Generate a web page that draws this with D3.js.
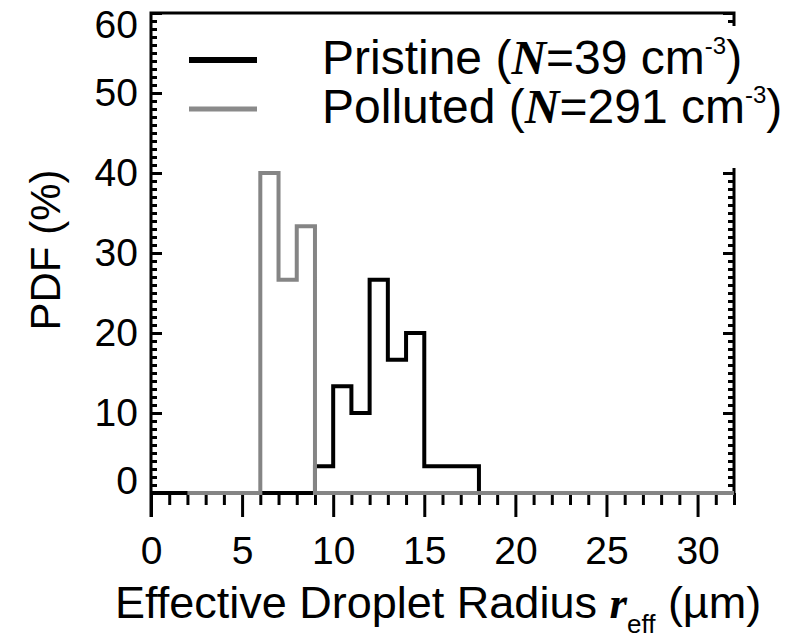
<!DOCTYPE html>
<html>
<head>
<meta charset="utf-8">
<script src="https://cdn.jsdelivr.net/npm/d3@7"></script>
<style>
  body { margin: 0; background: #fff; }
  text { font-family: "Liberation Sans", Arial, sans-serif; }
</style>
</head>
<body>
<div id="chart"></div>
<script>
// step histogram data: left bin edge (um) and PDF (%) of that bin
var pristineRadius = [0, 9, 10, 11, 12, 13, 14, 15, 16, 17, 18, 32];
var pristinePdf = [0, 3.33, 13.33, 10, 26.67, 16.67, 20, 3.33, 3.33, 3.33, 0, 0];

var pollutedRadius = [2, 6, 7, 8, 9, 32];
var pollutedPdf = [0, 40, 26.67, 33.33, 0, 0];

var xTicks = [0, 5, 10, 15, 20, 25, 30];
var yTicks = [0, 10, 20, 30, 40, 50, 60];

var legendNames = ["Pristine", "Polluted"];
var legendN = ["39", "291"];

var width = 807, height = 643;
var margin = {top: 13, right: 73, bottom: 150, left: 151};

var svg = d3.select("#chart").append("svg")
    .attr("width", width)
    .attr("height", height);

var xScale = d3.scaleLinear()
    .domain([0, 32])
    .range([margin.left, width - margin.right]);

var yScale = d3.scaleLinear()
    .domain([0, 60])
    .range([height - margin.bottom, margin.top]);

var x0 = xScale(0), x1 = xScale(32), y0 = yScale(0), y1 = yScale(60);

// minor ticks every 1 unit
var xMinor = d3.range(0, 33, 1).filter(d => d % 5 != 0);
var yMinor = d3.range(0, 61, 1).filter(d => d % 10 != 0);

// bottom axis, ticks pointing down
svg.append("g")
    .attr("transform", "translate(0," + y0 + ")")
    .call(d3.axisBottom(xScale).tickValues(xMinor).tickSize(12).tickFormat(""))
    .call(g => g.select(".domain").remove());

svg.append("g")
    .attr("class", "xaxis")
    .attr("transform", "translate(0," + y0 + ")")
    .call(d3.axisBottom(xScale).tickValues(xTicks).tickSize(24).tickPadding(19).tickSizeOuter(0))
    .call(g => g.select(".domain").remove());

// left axis, ticks pointing in
svg.append("g")
    .attr("transform", "translate(" + x0 + ",0)")
    .call(d3.axisLeft(yScale).tickValues(yMinor).tickSize(-6).tickFormat(""))
    .call(g => g.select(".domain").remove());

svg.append("g")
    .attr("class", "yaxis")
    .attr("transform", "translate(" + x0 + ",0)")
    .call(d3.axisLeft(yScale).tickValues(yTicks).tickSize(-11).tickPadding(13).tickSizeOuter(0))
    .call(g => g.select(".domain").remove());

// right axis, ticks pointing in, no labels
svg.append("g")
    .attr("transform", "translate(" + x1 + ",0)")
    .call(d3.axisRight(yScale).tickValues(yMinor).tickSize(-6).tickFormat(""))
    .call(g => g.select(".domain").remove());

svg.append("g")
    .attr("transform", "translate(" + x1 + ",0)")
    .call(d3.axisRight(yScale).tickValues(yTicks).tickSize(-11).tickFormat(""))
    .call(g => g.select(".domain").remove());

svg.selectAll(".tick line").attr("stroke", "#000").attr("stroke-width", 3);

// frame
svg.append("path")
    .attr("d", "M" + x0 + "," + (y0 + 24) + "V" + y1 + "H" + x1 + "V" + y0)
    .attr("fill", "none")
    .attr("stroke", "#000")
    .attr("stroke-width", 3);

svg.selectAll(".xaxis text, .yaxis text")
    .attr("fill", "#000")
    .style("font-size", "39px");

// nudge the end labels like the original
svg.selectAll(".yaxis .tick text")
    .attr("dy", d => d == 60 ? "0.62em" : d == 0 ? "0.0em" : "0.32em");

// step lines
var line = d3.line()
    .x(d => xScale(d[0]))
    .y(d => yScale(d[1]))
    .curve(d3.curveStepAfter);

svg.append("path")
    .datum(d3.zip(pristineRadius, pristinePdf))
    .attr("d", line)
    .attr("fill", "none")
    .attr("stroke", "#000")
    .attr("stroke-width", 4);

svg.append("path")
    .datum(d3.zip(pollutedRadius, pollutedPdf))
    .attr("d", line)
    .attr("fill", "none")
    .attr("stroke", "#858585")
    .attr("stroke-width", 4);

// legend, white box hides the top of the right axis
svg.append("rect")
    .attr("x", 300)
    .attr("y", 26)
    .attr("width", width - 300)
    .attr("height", 142)
    .attr("fill", "#fff");

var legendColors = ["#000", "#8a8a8a"];
var legendY = [60, 109];

legendNames.forEach(function(name, i) {
    svg.append("line")
        .attr("x1", 189).attr("x2", 257)
        .attr("y1", legendY[i]).attr("y2", legendY[i])
        .attr("stroke", legendColors[i])
        .attr("stroke-width", i == 0 ? 6 : 5);

    var t = svg.append("text")
        .attr("x", 322)
        .attr("y", legendY[i] + 14)
        .style("font-size", "48px")
        .attr("fill", "#000");
    t.append("tspan").text(name + " (");
    t.append("tspan")
        .style("font-family", "'Liberation Serif', 'Times New Roman', serif")
        .style("font-style", "italic")
        .style("font-weight", "bold")
        .text("N");
    t.append("tspan").text("=" + legendN[i] + " cm");
    t.append("tspan")
        .attr("dy", -20)
        .style("font-size", "24px")
        .text("-3");
    t.append("tspan")
        .attr("dy", 20)
        .text(")");
});

// axis titles
var xt = svg.append("text")
    .attr("x", 115)
    .attr("y", 618)
    .style("font-size", "45px")
    .attr("fill", "#000");
xt.append("tspan").text("Effective Droplet Radius ");
xt.append("tspan")
    .style("font-family", "'Liberation Serif', 'Times New Roman', serif")
    .style("font-style", "italic")
    .style("font-weight", "bold")
    .text("r");
xt.append("tspan")
    .attr("dy", 15)
    .style("font-size", "26px")
    .text("eff");
xt.append("tspan")
    .attr("dy", -15)
    .text(" (\u00b5m)");

svg.append("text")
    .attr("transform", "translate(60,250) rotate(-90)")
    .attr("text-anchor", "middle")
    .style("font-size", "42px")
    .attr("fill", "#000")
    .text("PDF (%)");
</script>
</body>
</html>
